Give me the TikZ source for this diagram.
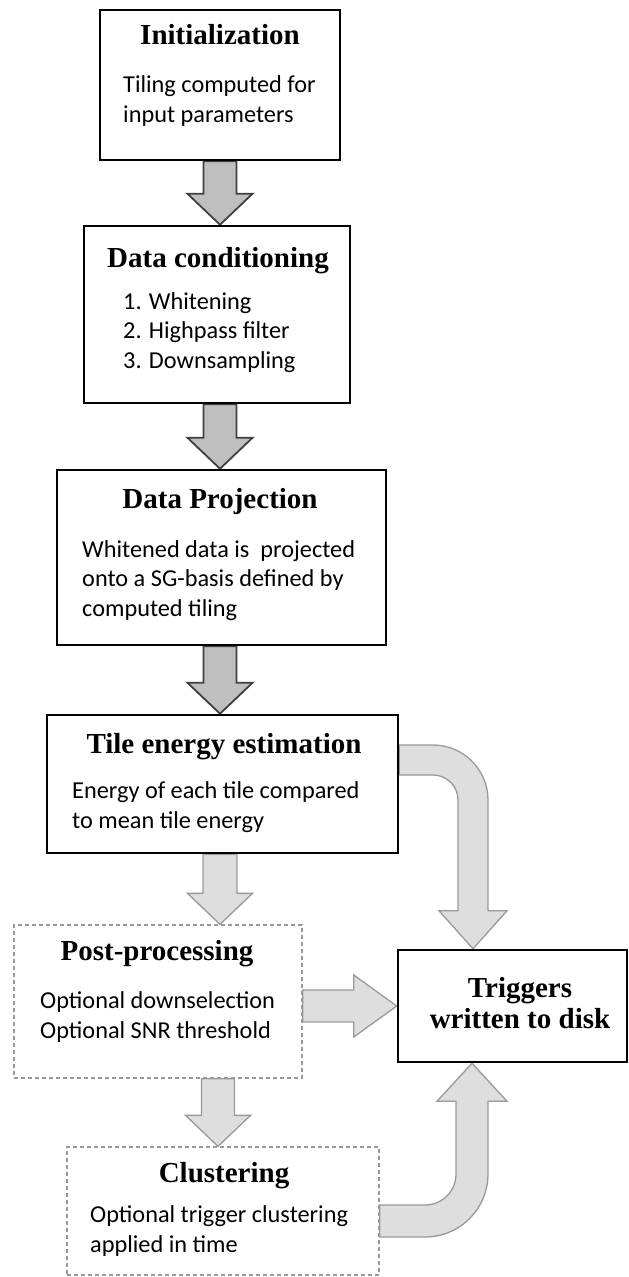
\documentclass[tikz,border=0pt]{standalone}
\usepackage{fontspec}
\setmainfont{Liberation Serif}
\newfontfamily\bodyfont{Carlito}
\usetikzlibrary{calc,backgrounds}
\newcommand{\downblock}[6]{% style, x, from, to, shaft half, head half
  \path[#1] let \p1=(#3.south), \p2=(#4.north) in
    ({#2pt-#5pt},\y1) -- ({#2pt-#5pt},{\y2+31pt}) -- ({#2pt-#6pt},{\y2+31pt})
    -- ({#2pt},\y2) -- ({#2pt+#6pt},{\y2+31pt}) -- ({#2pt+#5pt},{\y2+31pt})
    -- ({#2pt+#5pt},\y1) -- cycle;}
\begin{document}
\begin{tikzpicture}[x=1pt,y=1pt,
  box/.style={draw=black,line width=2.5pt,fill=white,inner sep=0pt},
  optbox/.style={draw=black!40,line width=1.3pt,dash pattern=on 4pt off 3pt,fill=white,inner sep=0pt},
  title/.style={font=\fontsize{29}{31}\selectfont\bfseries,anchor=base,inner sep=0pt,align=center},
  body/.style={font=\bodyfont\fontsize{24.3}{29.3}\selectfont,anchor=base west,inner sep=0pt,align=left},
  darrow/.style={fill=black!25,draw=black!75,line width=1.8pt,line join=miter},
  larrow/.style={fill=black!13,draw=black!40,line width=1.3pt,line join=miter}]
\useasboundingbox (0,0) rectangle (629,-1277);
% boxes
\node[box,minimum width=240pt,minimum height=150pt] (init) at (220,-85) {};
\node[box,minimum width=266pt,minimum height=177pt] (cond) at (217,-314.5) {};
\node[box,minimum width=329pt,minimum height=175pt] (proj) at (221.5,-557.5) {};
\node[box,minimum width=351pt,minimum height=138pt] (tile) at (222.5,-784) {};
\node[optbox,minimum width=288pt,minimum height=153pt] (post) at (158,-1001.5) {};
\node[optbox,minimum width=312pt,minimum height=128pt] (clus) at (223,-1211) {};
\node[box,minimum width=229pt,minimum height=112pt] (trig) at (512.5,-1006) {};
% texts (base anchor = baseline of the last line)
\node[title] (initT) at (220,-44) {Initialization};
\node[body] (initB) at (123,-122) {Tiling computed for\\input parameters};
\node[title] (condT) at (218,-267) {Data conditioning};
\node[body] (condB) at (123,-368) {1. Whitening\\2. Highpass filter\\3. Downsampling};
\node[title] (projT) at (220,-508) {Data Projection};
\node[body] (projB) at (82,-616) {Whitened data is\ \ projected\\onto a SG-basis defined by\\computed tiling};
\node[title] (tileT) at (224,-753) {Tile energy estimation};
\node[body] (tileB) at (72,-828) {Energy of each tile compared\\to mean tile energy};
\node[title] (postT) at (157,-960) {Post-processing};
\node[body] (postB) at (40,-1038) {Optional downselection\\Optional SNR threshold};
\node[title] (clusT) at (224,-1182) {Clustering};
\node[body] (clusB) at (90,-1252) {Optional trigger clustering\\applied in time};
\node[title] (trigT) at (520,-1028) {Triggers\\written to disk};
% arrows
\begin{scope}[on background layer]
\downblock{darrow}{220}{init}{cond}{16.5}{32.5}
\downblock{darrow}{220}{cond}{proj}{16.5}{32.5}
\downblock{darrow}{220}{proj}{tile}{16.5}{32.5}
\downblock{larrow}{220}{tile}{post}{17}{32.5}
\downblock{larrow}{218}{post}{clus}{16.5}{32.5}
% post -> triggers
\path[larrow] let \p1=(post.east), \p2=(trig.west) in
  (\x1,{\y2+16pt}) -- ({\x2-43pt},{\y2+16pt}) -- ({\x2-43pt},{\y2+31pt}) -- (\x2,\y2)
  -- ({\x2-43pt},{\y2-31pt}) -- ({\x2-43pt},{\y2-16pt}) -- (\x1,{\y2-16pt}) -- cycle;
% tile -> triggers (curved)
\path[larrow] let \p1=(tile.east), \p2=(trig.north) in
  (\x1,-745) -- (433,-745) arc[start angle=90,end angle=0,radius=55]
  -- (488,{\y2+38pt}) -- (507,{\y2+38pt}) -- (473,\y2) -- (439,{\y2+38pt}) -- (458,{\y2+38pt})
  -- (458,-800) arc[start angle=0,end angle=90,radius=25] -- (\x1,-775) -- cycle;
% clustering -> triggers (curved)
\path[larrow] let \p1=(clus.east), \p2=(trig.south) in
  (\x1,-1205) -- (425,-1205) arc[start angle=-90,end angle=0,radius=31]
  -- (456,{\y2-38pt}) -- (437,{\y2-38pt}) -- (472,\y2) -- (507,{\y2-38pt}) -- (488,{\y2-38pt})
  -- (488,-1174) arc[start angle=0,end angle=-90,radius=63] -- (\x1,-1237) -- cycle;
\end{scope}
\end{tikzpicture}
\end{document}
